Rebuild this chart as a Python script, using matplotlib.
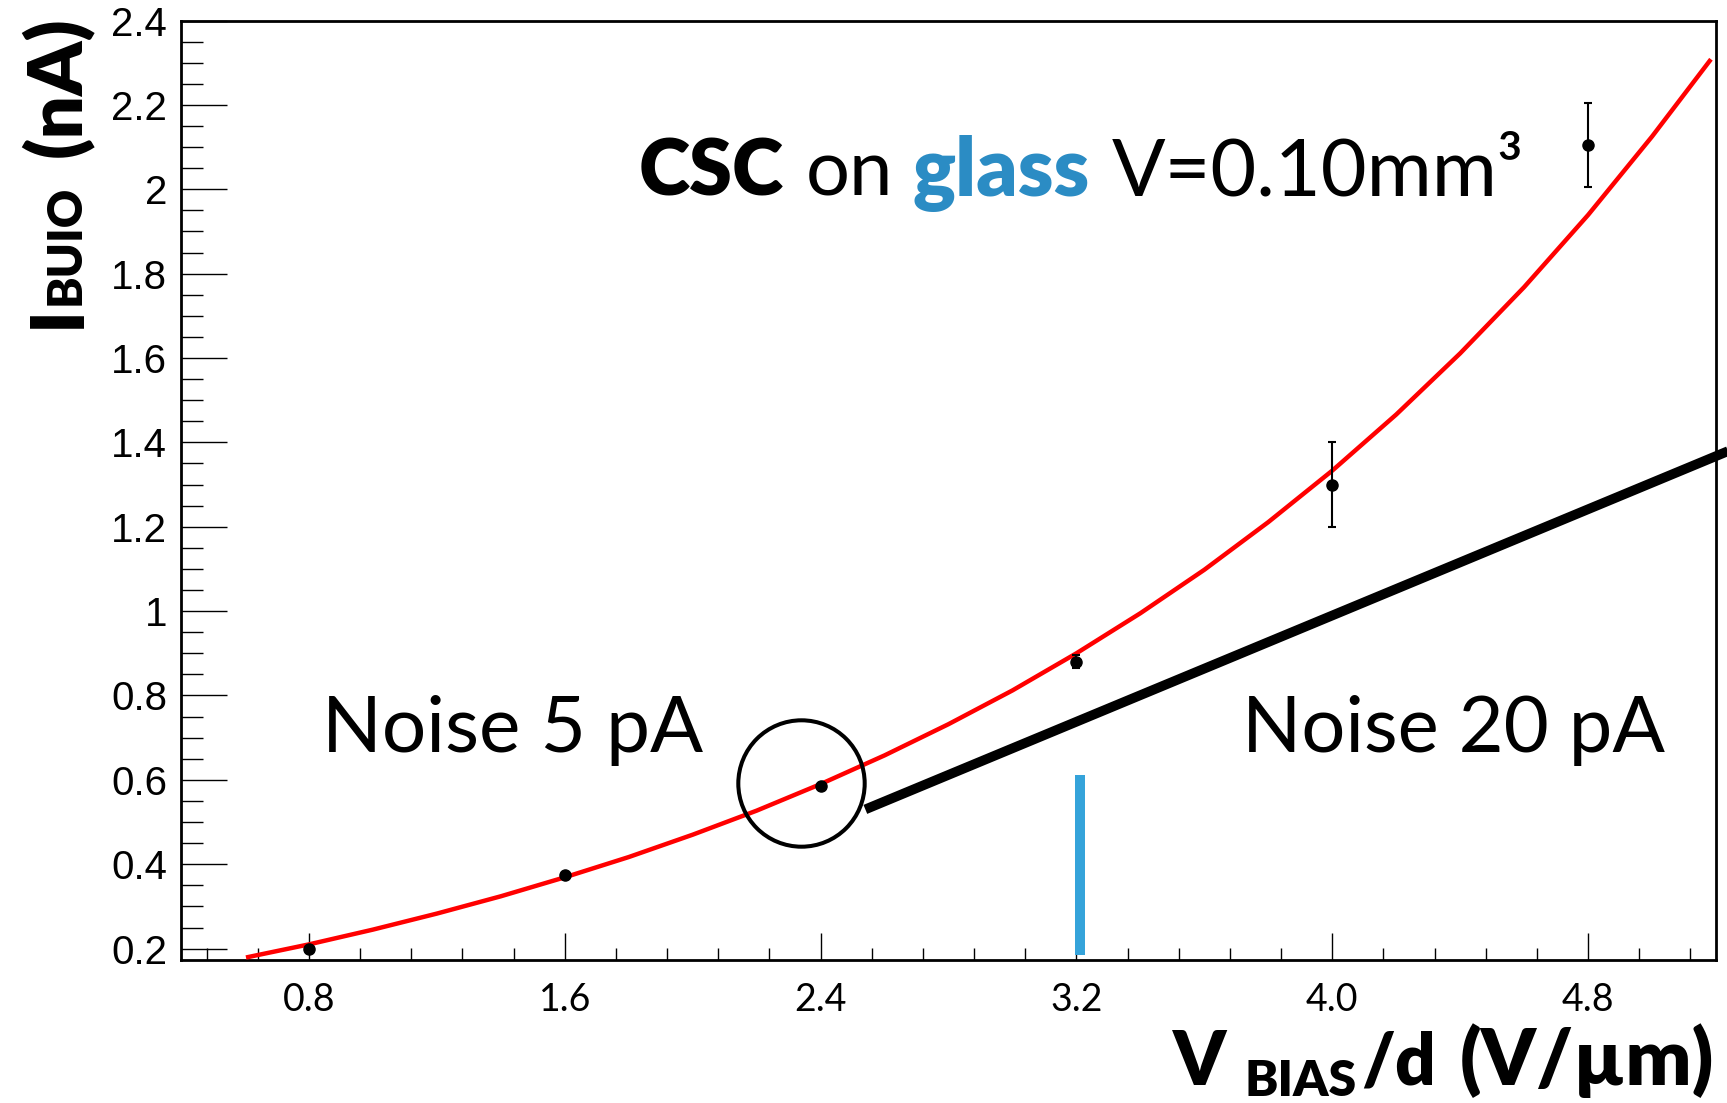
import matplotlib
matplotlib.use("Agg")
import matplotlib.pyplot as plt
from matplotlib.ticker import FixedLocator, MultipleLocator
from matplotlib.transforms import IdentityTransform

# measured leakage current vs bias field
field = [0.8, 1.6, 2.4, 3.2, 4.0, 4.8]
current = [0.20, 0.375, 0.585, 0.88, 1.30, 2.105]
current_err = [0.005, 0.005, 0.005, 0.015, 0.10, 0.10]

# fitted curve, sampled along the drawn line
fit_x = [0.61, 0.80, 1.00, 1.20, 1.40, 1.60, 1.80, 2.00, 2.20, 2.40, 2.60, 2.80,
         3.00, 3.20, 3.40, 3.60, 3.80, 4.00, 4.20, 4.40, 4.60, 4.80, 5.00, 5.18]
fit_y = [0.180, 0.210, 0.245, 0.283, 0.324, 0.369, 0.417, 0.470, 0.527, 0.590, 0.658, 0.732,
         0.812, 0.900, 0.995, 1.098, 1.211, 1.333, 1.466, 1.611, 1.768, 1.939, 2.125, 2.304]

# noise-limit line and markers
limit_x = [2.54, 5.24]
limit_y = [0.530, 1.380]
circle_xy = (2.338, 0.593)
bar_x = 3.21
bar_y = [0.185, 0.612]

xticks = [0.8, 1.6, 2.4, 3.2, 4.0, 4.8]
xticklabels = ["0.8", "1.6", "2.4", "3.2", "4.0", "4.8"]
yticks = [0.2, 0.4, 0.6, 0.8, 1.0, 1.2, 1.4, 1.6, 1.8, 2.0, 2.2, 2.4]
yticklabels = ["0.2", "0.4", "0.6", "0.8", "1", "1.2", "1.4", "1.6", "1.8", "2", "2.2", "2.4"]

W, H = 1727, 1103
SANS = ["Lato", "DejaVu Sans"]
BLUE_BAR = "#35a3da"
BLUE_TXT = "#2b8cc4"

fig = plt.figure(figsize=(W / 100, H / 100), dpi=100)
ax = fig.add_axes([181 / W, 1 - 960 / H, (1716 - 181) / W, (960 - 20.5) / H])

ax.plot(fit_x, fit_y, color="red", lw=3.2, zorder=3)
ax.errorbar(field, current, yerr=current_err, fmt="o", color="black", ms=8,
            elinewidth=1.5, capsize=3.2, capthick=1.5, zorder=4)

ax.plot(limit_x, limit_y, color="black", lw=7, solid_capstyle="butt", clip_on=False, zorder=5)
ax.plot([circle_xy[0]], [circle_xy[1]], marker="o", ms=91, mfc="none", mec="black",
        mew=2.9, zorder=5)
ax.plot([bar_x, bar_x], bar_y, color=BLUE_BAR, lw=7.2, solid_capstyle="butt", zorder=5)

ax.set_xlim(0.4, 5.2)
ax.set_ylim(0.173, 2.4)

ax.xaxis.set_major_locator(FixedLocator(xticks))
ax.set_xticklabels(xticklabels, fontsize=27, family=SANS)
ax.xaxis.set_minor_locator(MultipleLocator(0.16))
ax.yaxis.set_major_locator(FixedLocator(yticks))
ax.set_yticklabels(yticklabels, fontsize=29, family=["Liberation Sans", "DejaVu Sans"])
ax.yaxis.set_minor_locator(MultipleLocator(0.05))

ax.tick_params(axis="y", which="major", direction="in", length=33, width=1, pad=10)
ax.tick_params(axis="y", which="minor", direction="in", length=16, width=1)
ax.tick_params(axis="x", which="major", direction="in", length=19.5, width=1, pad=16)
ax.tick_params(axis="x", which="minor", direction="in", length=9, width=1)
for sp in ax.spines.values():
    sp.set_linewidth(2)

px = IdentityTransform()


def put(x, y_top, s, **kw):
    # x, y measured from the top-left corner in pixels
    fig.text(x, H - y_top, s, transform=px, family=SANS, **kw)


# annotation text
put(322, 752, "Noise 5 pA", fontsize=56.5)
put(1242, 752, "Noise 20 pA", fontsize=56)
put(639, 196, "CSC", fontsize=56, fontweight="heavy")
put(806, 196, "on", fontsize=56)
put(912, 196, "glass", fontsize=58, fontweight="heavy", color=BLUE_TXT)
put(1112, 196, "V=0.10mm\u00b3", fontsize=57)

# axis titles
put(1173, 1085, "V", fontsize=54, fontweight="heavy")
put(1245, 1096, "BIAS", fontsize=36, fontweight="heavy")
put(1361, 1085, "/d", fontsize=51, fontweight="heavy")
put(1460, 1085, "(V/\u00b5m)", fontsize=56, fontweight="heavy")

rot = dict(rotation=90, rotation_mode="anchor", ha="left", va="baseline")
put(80, 328, "I", fontsize=53, fontweight="heavy", **rot)
put(80, 305, "BUIO", fontsize=34, fontweight="heavy", **rot)
put(80, 157, "(nA)", fontsize=55, fontweight="heavy", **rot)

fig.savefig("out.png", dpi=100)
